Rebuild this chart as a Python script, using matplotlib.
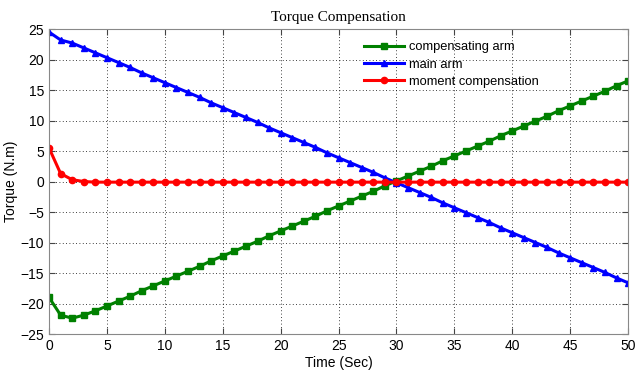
import numpy as np
import matplotlib
matplotlib.use('Agg')
import matplotlib.pyplot as plt

# time axis (sec)
t = np.arange(0, 51)

comp_arm = [-19.0, -21.9, -22.4, -21.9, -21.2, -20.4, -19.6, -18.8, -17.9, -17.1,
            -16.3, -15.5, -14.7, -13.9, -13.0, -12.2, -11.4, -10.6, -9.8, -8.9,
            -8.1, -7.3, -6.5, -5.7, -4.8, -4.0, -3.2, -2.4, -1.6, -0.7,
            0.1, 0.9, 1.7, 2.5, 3.4, 4.2, 5.0, 5.8, 6.6, 7.5,
            8.3, 9.1, 9.9, 10.7, 11.6, 12.4, 13.2, 14.0, 14.8, 15.7, 16.5]
main_arm = [24.5, 23.2, 22.7, 21.9, 21.1, 20.3, 19.5, 18.7, 17.8, 17.0,
            16.2, 15.4, 14.6, 13.8, 12.9, 12.1, 11.3, 10.5, 9.7, 8.8,
            8.0, 7.2, 6.4, 5.6, 4.7, 3.9, 3.1, 2.3, 1.5, 0.6,
            -0.2, -1.0, -1.8, -2.6, -3.5, -4.3, -5.1, -5.9, -6.7, -7.6,
            -8.4, -9.2, -10.0, -10.8, -11.7, -12.5, -13.3, -14.1, -14.9, -15.8, -16.6]
moment = [5.5, 1.3, 0.3, 0.0] + [-0.1] * 47

plt.rcParams['font.family'] = ['Liberation Sans', 'DejaVu Sans']

fig = plt.figure(figsize=(6.37, 3.72), dpi=100)
ax = fig.add_axes([0.077, 0.102, 0.909, 0.820])

ax.plot(t, comp_arm, color='#008000', lw=2.2, marker='s', ms=4.5, label='compensating arm')
ax.plot(t, main_arm, color='#0000ff', lw=2.2, marker='^', ms=5, label='main arm')
ax.plot(t, moment, color='#ff0000', lw=2.2, marker='o', ms=4.5, label='moment compensation')

ax.set_xlim(0, 50)
ax.set_ylim(-25, 25)
ax.set_xticks(np.arange(0, 51, 5))
ax.set_yticks(np.arange(-25, 26, 5))
ax.grid(True, color='black', linestyle=(0, (1, 3)), linewidth=0.6)
ax.tick_params(direction='in', top=True, right=True, labelsize=10, length=4, color='#444444')
for s in ax.spines.values():
    s.set_color('#888888')

ax.set_title('Torque Compensation', family='Liberation Serif', fontsize=11)
ax.set_xlabel('Time (Sec)', fontsize=10, labelpad=2)
ax.set_ylabel('Torque (N.m)', fontsize=10, labelpad=2)

leg = ax.legend(loc='upper left', bbox_to_anchor=(0.53, 0.985), frameon=False, fontsize=9.3,
                handlelength=3.1, labelspacing=0.4, borderaxespad=0.2, handletextpad=0.4)

plt.savefig('out.png', dpi=100)
